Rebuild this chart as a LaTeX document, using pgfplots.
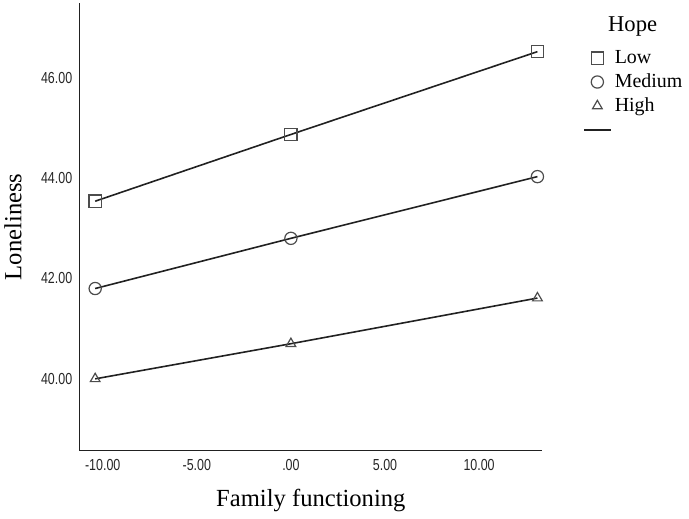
\documentclass[border=0pt]{standalone}
\usepackage{fontspec}
\setmainfont{Liberation Serif}
\newfontfamily\tickfont[FakeStretch=0.78]{Liberation Sans}
\usepackage{pgfplots}
\pgfplotsset{compat=1.18}
\definecolor{markgray}{gray}{0.3}
\definecolor{linecol}{gray}{0.13}
\begin{document}
\begin{tikzpicture}
\begin{axis}[
  name=main,
  scale only axis, width=348pt, height=336.75pt,
  xmin=-11.23, xmax=13.35, ymin=38.57, ymax=47.49,
  axis x line*=bottom, axis y line*=left,
  axis line style={line width=1.2pt, linecol, -},
  xtick={-10,-5,0,5,10}, xticklabels={-10.00,-5.00,.00,5.00,10.00},
  ytick={40,42,44,46}, yticklabels={40.00,42.00,44.00,46.00},
  major tick length=0pt,
  tick label style={font=\tickfont\fontsize{12}{14}\selectfont, text=black!85},
  xticklabel style={yshift=-3pt},
  yticklabel style={xshift=-2pt},
  xlabel={Family functioning}, ylabel={Loneliness},
  label style={font=\fontsize{18.5}{22}\selectfont},
  xlabel style={at={(axis description cs:0.5,-0.1114)}, anchor=center},
  ylabel style={at={(axis description cs:-0.1437,0.5)}, anchor=center},
  clip=false,
  legend style={draw=none, fill=none, at={(axis description cs:1,1)}, anchor=north west,
    xshift=28pt, yshift=-6.25pt, font=\fontsize{15}{18}\selectfont, row sep=0pt,
    nodes={text height=11pt, text depth=3pt, inner sep=2pt}},
  legend cell align=left,
  every axis plot/.append style={line width=1.2pt, linecol},
  mark options={solid, fill=none, draw=markgray, line width=0.9pt},
]
\addplot[forget plot, mark=square, mark size=4.6pt] coordinates {(-10.4,43.54) (0,44.87) (13.1,46.52)};
\addplot[forget plot, mark=o, mark size=4.6pt] coordinates {(-10.4,41.80) (0,42.80) (13.1,44.03)};
\addplot[forget plot, mark=triangle, mark size=4.2pt] coordinates {(-10.4,40.00) (0,40.70) (13.1,41.61)};
\addlegendimage{empty legend}
\addlegendentry[text depth=9pt]{\hspace{-5pt}\fontsize{17}{18}\selectfont Hope}
\addlegendimage{only marks, mark=square, mark size=4.6pt, mark options={fill=none, draw=markgray, line width=0.9pt}}
\addlegendentry{Low}
\addlegendimage{only marks, mark=o, mark size=4.6pt, mark options={fill=none, draw=markgray, line width=0.9pt}}
\addlegendentry{Medium}
\addlegendimage{only marks, mark=triangle, mark size=4.2pt, mark options={fill=none, draw=markgray, line width=0.9pt}}
\addlegendentry{High}
\addlegendimage{legend image code/.code={\draw[linecol, line width=1.2pt] (0.3cm-9.75pt,0pt) -- (0.3cm+10.5pt,0pt);}}
\addlegendentry{}
\end{axis}
\path (main.south west) ++(-59.25pt,-51pt) rectangle ++(516.75pt,390pt);
\end{tikzpicture}
\end{document}
